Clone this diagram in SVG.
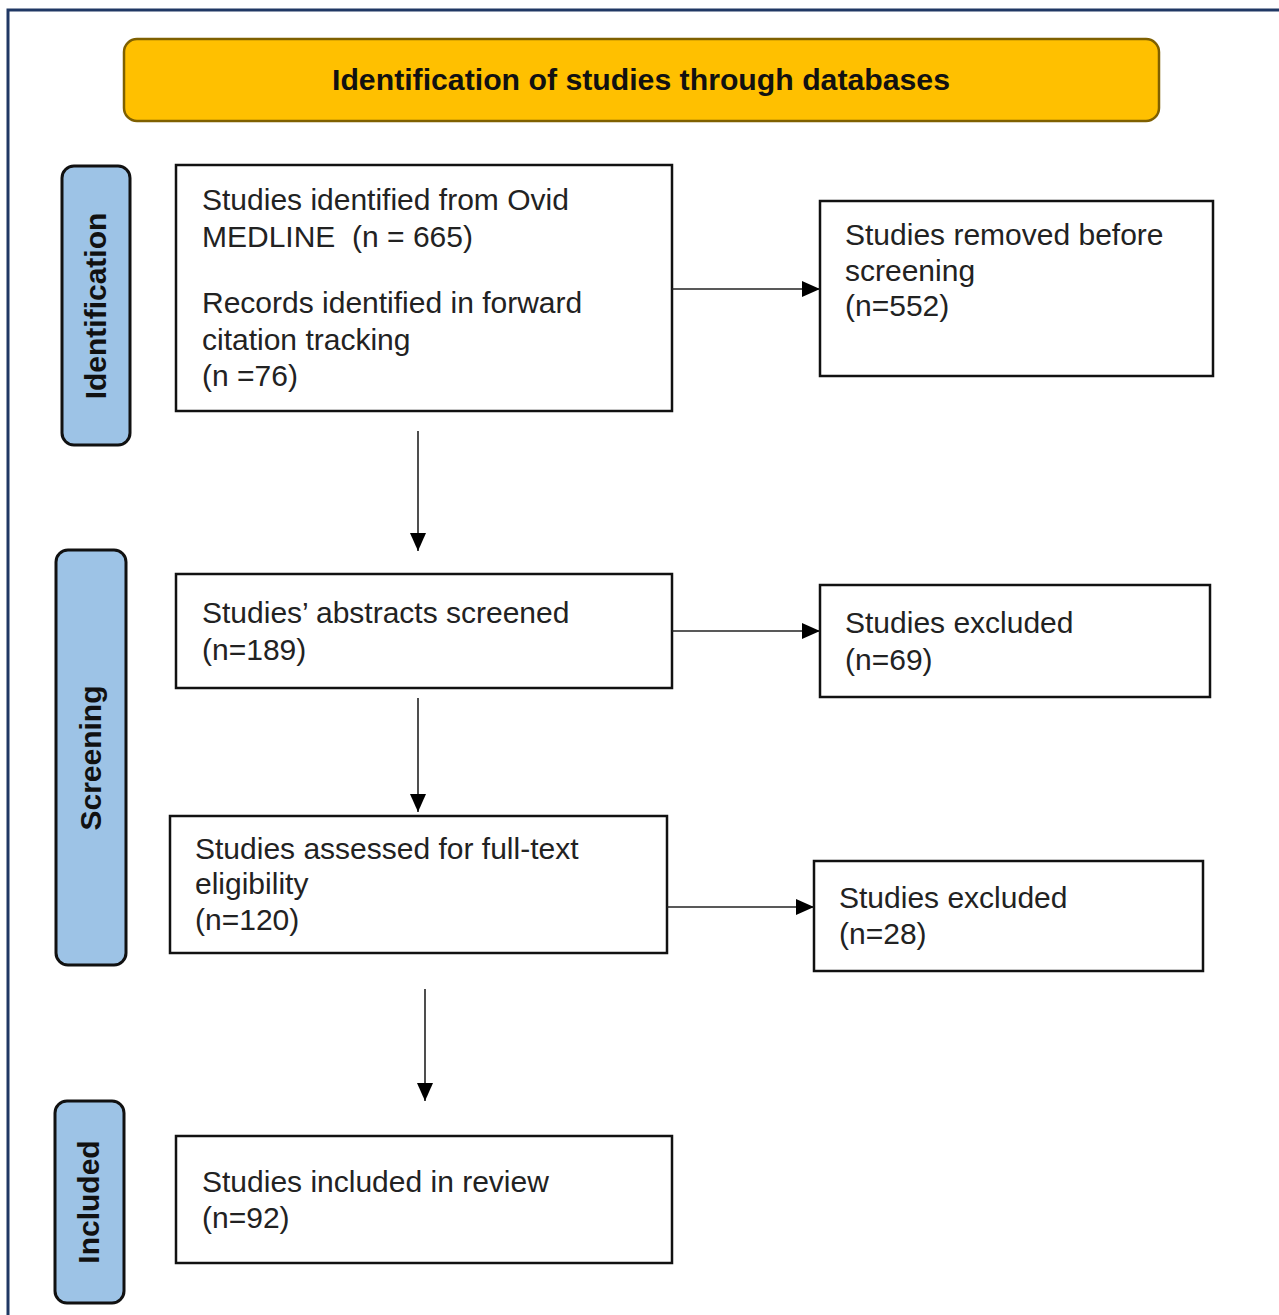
<svg xmlns="http://www.w3.org/2000/svg" width="1279" height="1315" viewBox="0 0 1279 1315">
<style>
.box{fill:#fff;stroke:#111;stroke-width:2.5}
.side{fill:#9dc3e6;stroke:#111;stroke-width:3}
.t{font-family:"Liberation Sans",Arial,sans-serif;font-size:30px;fill:#222}
.st{font-family:"Liberation Sans",Arial,sans-serif;font-size:30px;font-weight:bold;fill:#111;text-anchor:middle}
.c{stroke:#222;stroke-width:1.6;fill:none;marker-end:url(#ah)}
</style>
<defs>
<marker id="ah" markerUnits="userSpaceOnUse" markerWidth="18" markerHeight="16" refX="18" refY="8" orient="auto">
<path d="M0,0 L18,8 L0,16 z" fill="#000"/>
</marker>
</defs>
<rect width="1279" height="1315" fill="#fff"/>
<path d="M8,1315 V10 H1279" fill="none" stroke="#203864" stroke-width="3"/>

<g id="header">
<rect x="124" y="39" width="1035" height="82" rx="13" fill="#ffc000" stroke="#7f6000" stroke-width="2.5"/>
<text x="641" y="90" class="st" style="font-size:29px" textLength="618" lengthAdjust="spacingAndGlyphs">Identification of studies through databases</text>
</g>

<g id="side-identification">
<rect class="side" x="62" y="166" width="68" height="279" rx="12"/>
<text class="st" transform="translate(106,306) rotate(-90)">Identification</text>
</g>
<g id="side-screening">
<rect class="side" x="56" y="550" width="70" height="415" rx="12"/>
<text class="st" transform="translate(101,758) rotate(-90)">Screening</text>
</g>
<g id="side-included">
<rect class="side" x="55" y="1101" width="69" height="202" rx="12"/>
<text class="st" transform="translate(99,1202) rotate(-90)">Included</text>
</g>

<g id="n-identified">
<rect class="box" x="176" y="165" width="496" height="246"/>
<text class="t" x="202" y="210">Studies identified from Ovid</text>
<text class="t" x="202" y="247" xml:space="preserve">MEDLINE  (n = 665)</text>
<text class="t" x="202" y="313">Records identified in forward</text>
<text class="t" x="202" y="350">citation tracking</text>
<text class="t" x="202" y="386">(n =76)</text>
</g>
<g id="n-removed">
<rect class="box" x="820" y="201" width="393" height="175"/>
<text class="t" x="845" y="245">Studies removed before</text>
<text class="t" x="845" y="281">screening</text>
<text class="t" x="845" y="316">(n=552)</text>
</g>
<g id="n-screened">
<rect class="box" x="176" y="574" width="496" height="114"/>
<text class="t" x="202" y="623">Studies’ abstracts screened</text>
<text class="t" x="202" y="660">(n=189)</text>
</g>
<g id="n-excluded1">
<rect class="box" x="820" y="585" width="390" height="112"/>
<text class="t" x="845" y="633">Studies excluded</text>
<text class="t" x="845" y="670">(n=69)</text>
</g>
<g id="n-assessed">
<rect class="box" x="170" y="816" width="497" height="137"/>
<text class="t" x="195" y="859">Studies assessed for full-text</text>
<text class="t" x="195" y="894">eligibility</text>
<text class="t" x="195" y="930">(n=120)</text>
</g>
<g id="n-excluded2">
<rect class="box" x="814" y="861" width="389" height="110"/>
<text class="t" x="839" y="908">Studies excluded</text>
<text class="t" x="839" y="944">(n=28)</text>
</g>
<g id="n-included">
<rect class="box" x="176" y="1136" width="496" height="127"/>
<text class="t" x="202" y="1192">Studies included in review</text>
<text class="t" x="202" y="1228">(n=92)</text>
</g>

<g id="connectors">
<line class="c" x1="672" y1="289" x2="820" y2="289"/>
<line class="c" x1="418" y1="431" x2="418" y2="551"/>
<line class="c" x1="672" y1="631" x2="820" y2="631"/>
<line class="c" x1="418" y1="698" x2="418" y2="812"/>
<line class="c" x1="667" y1="907" x2="814" y2="907"/>
<line class="c" x1="425" y1="989" x2="425" y2="1101"/>
</g>
</svg>
